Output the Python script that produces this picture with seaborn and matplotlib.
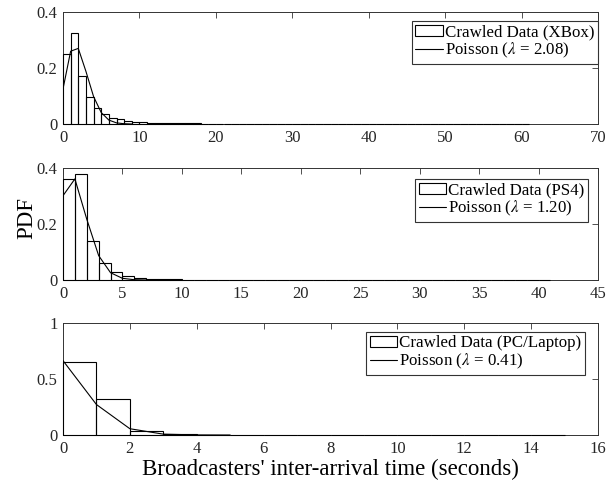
import numpy as np
import pandas as pd
import matplotlib
matplotlib.use("Agg")
import matplotlib.pyplot as plt
import seaborn as sns

# ---- data ----
xbox_hist = [0.25, 0.325, 0.172, 0.096, 0.056, 0.036, 0.023, 0.017, 0.012, 0.008,
             0.006, 0.005, 0.004, 0.003, 0.003, 0.002, 0.002, 0.002, 0.0015, 0.0015,
             0.001, 0.001, 0.001, 0.001, 0.001, 0.001, 0.0008, 0.0008, 0.0008, 0.0008,
             0.0006, 0.0006, 0.0006, 0.0006, 0.0006, 0.0005, 0.0005, 0.0005, 0.0005, 0.0005,
             0.0004, 0.0004, 0.0004, 0.0004, 0.0004, 0.0003, 0.0003, 0.0003, 0.0003, 0.0003,
             0.0003, 0.0003, 0.0003, 0.0003, 0.0003, 0.0002, 0.0002, 0.0002, 0.0002, 0.0002,
             0.0002]
xbox_poisson = [0.125, 0.26, 0.27, 0.188, 0.098, 0.041, 0.014, 0.004, 0.001, 0.0]
ps4_hist = [0.36, 0.378, 0.140, 0.059, 0.027, 0.0145, 0.007, 0.004, 0.003, 0.002,
            0.0015, 0.001, 0.001, 0.001, 0.0008, 0.0008, 0.0006, 0.0006, 0.0005, 0.0005,
            0.0005, 0.0004, 0.0004, 0.0004, 0.0003, 0.0003, 0.0003, 0.0003, 0.0003, 0.0003,
            0.0002, 0.0002, 0.0002, 0.0002, 0.0002, 0.0002, 0.0002, 0.0002, 0.0002, 0.0002,
            0.0002]
ps4_poisson = [0.301, 0.361, 0.217, 0.087, 0.026, 0.006, 0.001, 0.0]
pc_hist = [0.648, 0.319, 0.036, 0.005, 0.001, 0.0008, 0.0006, 0.0005, 0.0004, 0.0003,
           0.0003, 0.0002, 0.0002, 0.0002, 0.0002]
pc_poisson = [0.664, 0.272, 0.056, 0.0076, 0.0008, 0.0]

xbox_label = ["Crawled Data (XBox)", r"Poisson ($\lambda$ = 2.08)"]
ps4_label = ["Crawled Data (PS4)", r"Poisson ($\lambda$ = 1.20)"]
pc_label = ["Crawled Data (PC/Laptop)", r"Poisson ($\lambda$ = 0.41)"]

xlims = [70, 45, 16]
xticks = [list(range(0, 71, 10)), list(range(0, 46, 5)), list(range(0, 17, 2))]
ylims = [0.4, 0.4, 1.0]
yticks = [[0, 0.2, 0.4], [0, 0.2, 0.4], [0, 0.5, 1]]
yticklabels = [["0", "0.2", "0.4"], ["0", "0.2", "0.4"], ["0", "0.5", "1"]]

sns.set_theme(style="white")
plt.rcParams["font.family"] = ["Liberation Serif", "DejaVu Serif"]
plt.rcParams["mathtext.fontset"] = "stix"

fig = plt.figure(figsize=(6.08, 4.91), dpi=100)
W, H = 608, 491
left, right = 63, 598
panel_y = [(12, 124), (168, 280), (323, 435)]
legend_anchor = [(598, 21), (588, 179), (585, 332)]

datasets = [(xbox_hist, xbox_poisson, xbox_label),
            (ps4_hist, ps4_poisson, ps4_label),
            (pc_hist, pc_poisson, pc_label)]

for i, ((hist, pois, labels), (t, b)) in enumerate(zip(datasets, panel_y)):
    ax = fig.add_axes([left / W, 1 - b / H, (right - left) / W, (b - t) / H])
    n = len(hist)
    df = pd.DataFrame({"x": np.arange(n) + 0.5, "w": hist})
    sns.histplot(data=df, x="x", weights="w", bins=n, binrange=(0, n),
                 fill=False, element="bars", color="black", linewidth=0.8,
                 ax=ax, label=labels[0])
    for p in ax.patches:
        p.set_clip_on(False)
        p.set_zorder(3)
    dfl = pd.DataFrame({"k": np.arange(len(pois)), "p": pois})
    sns.lineplot(data=dfl, x="k", y="p", color="black", linewidth=0.8, ax=ax,
                 label=labels[1])
    ax.set_xlim(0, xlims[i])
    ax.set_ylim(0, ylims[i])
    ax.set_xticks(xticks[i])
    ax.set_yticks(yticks[i])
    ax.set_yticklabels(yticklabels[i])
    ax.set_xlabel("")
    ax.set_ylabel("")
    ax.tick_params(direction="in", length=4.5, width=0.6, top=True, right=True,
                   labelsize=12, colors="#333333", pad=4)
    ax.tick_params(labelcolor="#262626")
    for s in ax.spines.values():
        s.set_linewidth(0.7)
        s.set_color("#333333")
        s.set_zorder(1)
    h, l = ax.get_legend_handles_labels()
    order = [l.index(labels[0]), l.index(labels[1])]
    ax_x, ax_y = legend_anchor[i]
    leg = ax.legend([h[j] for j in order], [l[j] for j in order],
                    loc="upper right", bbox_to_anchor=(ax_x / W, 1 - ax_y / H),
                    bbox_transform=fig.transFigure,
                    fontsize=12.2, frameon=True, fancybox=False,
                    edgecolor="#333333", framealpha=1, borderpad=0.2,
                    labelspacing=0.05, handlelength=1.6, handletextpad=0.15,
                    borderaxespad=0)
    leg.get_frame().set_linewidth(0.8)
    for txt in leg.get_texts():
        txt.set_color("black")
    if i == 2:
        ax.set_xlabel("Broadcasters' inter-arrival time (seconds)", fontsize=16.5,
                      color="black", labelpad=2)
    if i == 1:
        ax.set_ylabel("PDF", fontsize=16.5, color="black")
        ax.yaxis.set_label_coords(-0.048, 0.55)

fig.savefig("out.png", dpi=100)
